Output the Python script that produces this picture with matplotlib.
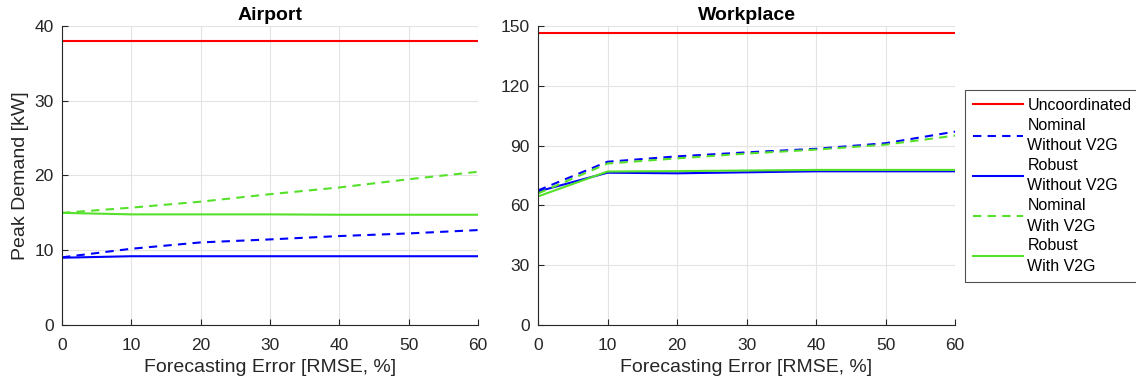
import matplotlib
matplotlib.use("Agg")
import matplotlib.pyplot as plt

plt.rcParams['font.family'] = ['Liberation Sans', 'DejaVu Sans']

errors = [0, 10, 20, 30, 40, 50, 60]

# Airport peak demand [kW]
airport_uncoord = [38.0, 38.0, 38.0, 38.0, 38.0, 38.0, 38.0]
airport_nom_nov2g = [9.05, 10.2, 11.05, 11.45, 11.9, 12.25, 12.7]
airport_rob_nov2g = [9.0, 9.2, 9.2, 9.2, 9.2, 9.2, 9.2]
airport_nom_v2g = [15.0, 15.7, 16.5, 17.5, 18.4, 19.5, 20.5]
airport_rob_v2g = [15.0, 14.8, 14.8, 14.8, 14.75, 14.75, 14.75]

# Workplace peak demand [kW]
work_uncoord = [146.5, 146.5, 146.5, 146.5, 146.5, 146.5, 146.5]
work_nom_nov2g = [67.5, 81.9, 84.6, 86.6, 88.4, 91.2, 97.0]
work_rob_nov2g = [67.0, 76.4, 76.1, 76.6, 77.1, 77.1, 77.1]
work_nom_v2g = [66.0, 81.0, 83.6, 86.0, 88.0, 90.5, 95.0]
work_rob_v2g = [64.5, 77.0, 77.2, 77.5, 77.8, 77.8, 77.8]

labels = ["Uncoordinated", "Nominal\nWithout V2G", "Robust\nWithout V2G",
          "Nominal\nWith V2G", "Robust\nWith V2G"]
colors = ["#ff0000", "#0000ff", "#0000ff", "#55e02a", "#55e02a"]
styles = ["-", "--", "-", "--", "-"]

fig = plt.figure(figsize=(11.36, 3.85), dpi=100)
ax1 = fig.add_axes([62 / 1136, 1 - 325 / 385, 416 / 1136, 299 / 385])
ax2 = fig.add_axes([538 / 1136, 1 - 325 / 385, 417 / 1136, 299 / 385])

panels = [
    (ax1, "Airport", [airport_uncoord, airport_nom_nov2g, airport_rob_nov2g,
                      airport_nom_v2g, airport_rob_v2g], 40, [0, 10, 20, 30, 40]),
    (ax2, "Workplace", [work_uncoord, work_nom_nov2g, work_rob_nov2g,
                        work_nom_v2g, work_rob_v2g], 150, [0, 30, 60, 90, 120, 150]),
]

for ax, title, series, ymax, yticks in panels:
    for vals, c, ls, lab in zip(series, colors, styles, labels):
        ax.plot(errors, vals, color=c, linestyle=ls, linewidth=1.5, label=lab,
                dashes=(4, 3) if ls == "--" else (None, None))
    ax.set_xlim(0, 60)
    ax.set_ylim(0, ymax)
    ax.set_xticks(errors)
    ax.set_yticks(yticks)
    ax.grid(True, color="#e3e3e3", linewidth=0.8)
    ax.set_axisbelow(True)
    for s in ("top", "right"):
        ax.spines[s].set_visible(False)
    for s in ("left", "bottom"):
        ax.spines[s].set_color("#262626")
        ax.spines[s].set_linewidth(0.8)
    ax.tick_params(direction="in", length=4, color="#262626", labelsize=12.5,
                   labelcolor="#262626")
    ax.tick_params(axis="x", pad=9)
    ax.tick_params(axis="y", pad=6)
    ax.set_title(title, fontsize=14, fontweight="bold", pad=4)
    ax.set_xlabel("Forecasting Error [RMSE, %]", fontsize=14, color="#262626",
                  labelpad=5)

ax1.set_ylabel("Peak Demand [kW]", fontsize=14, color="#262626")

handles, labs = ax2.get_legend_handles_labels()
leg = fig.legend(handles, labs, loc="upper left",
                 bbox_to_anchor=(965 / 1136, 1 - 90 / 385),
                 fontsize=11.5, frameon=True, fancybox=False, edgecolor="#262626",
                 handlelength=3.1, handletextpad=0.3, labelspacing=0.3,
                 borderpad=0.5, borderaxespad=0)
for t in leg.get_texts():
    t.set_linespacing(1.45)
leg.get_frame().set_linewidth(0.8)

fig.savefig("out.png", dpi=100)
